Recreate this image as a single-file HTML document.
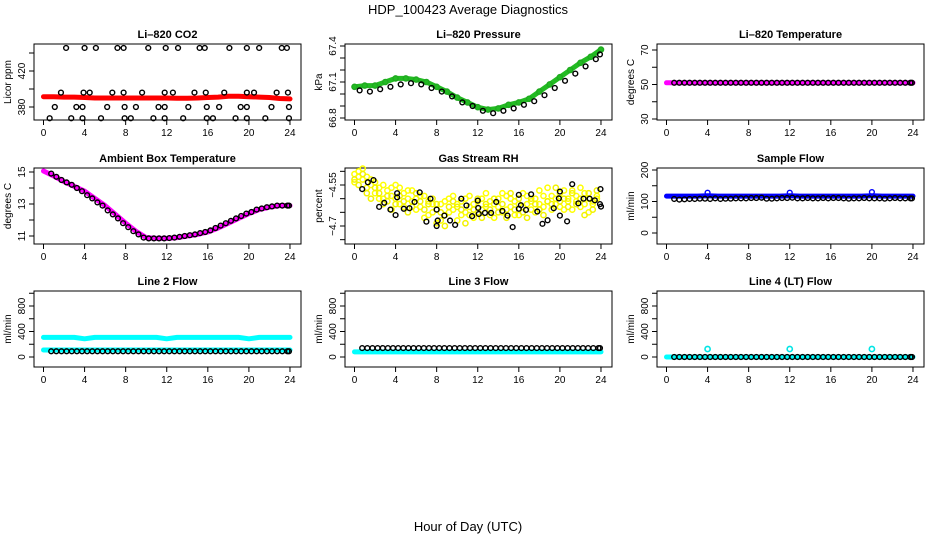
<!DOCTYPE html>
<html><head><meta charset="utf-8"><style>
html,body{margin:0;padding:0;background:#fff;}
svg{display:block;font-family:"Liberation Sans",Arial,sans-serif;}
</style></head><body>
<svg id="chart" width="936" height="540" viewBox="0 0 936 540" xmlns="http://www.w3.org/2000/svg">
<text x="468" y="14" text-anchor="middle" font-size="13">HDP_100423  Average Diagnostics</text>
<text x="468" y="531" text-anchor="middle" font-size="13">Hour of Day (UTC)</text>
</svg>
<script>
const xTicks=[0,4,8,12,16,20,24];
const hours=[0,1,2,3,4,5,6,7,8,9,10,11,12,13,14,15,16,17,18,19,20,21,22,23,24];
const halfHours=[0.75,1.25,1.75,2.25,2.75,3.25,3.75,4.25,4.75,5.25,5.75,6.25,6.75,7.25,7.75,8.25,8.75,9.25,9.75,10.25,10.75,11.25,11.75,12.25,12.75,13.25,13.75,14.25,14.75,15.25,15.75,16.25,16.75,17.25,17.75,18.25,18.75,19.25,19.75,20.25,20.75,21.25,21.75,22.25,22.75,23.25,23.75,23.9];
// CO2
const co2Red=[391.5,391.5,391,391,390.5,390,390,390,390,390,390,390,390,389.8,389.8,390,390.5,391,392,392,391.5,391,390.5,389.5,389];
const co2BlackHours=[2.2,4.0,5.1,7.2,7.8,10.2,11.9,13.1,15.2,15.7,18.1,19.8,21.0,23.2,23.7,1.7,3.9,4.5,6.7,7.8,9.6,11.8,12.6,14.7,15.8,17.6,19.8,20.5,22.7,23.8,1.1,3.2,3.8,6.2,7.9,9.0,11.2,11.8,14.1,15.9,17.1,19.2,19.8,22.2,23.9,0.6,2.7,3.8,5.6,7.9,8.5,10.7,11.8,13.6,15.9,16.5,18.7,19.8,21.6,23.9];
const co2Black=[445.6,445.6,445.6,445.6,445.6,445.6,445.6,445.6,445.6,445.6,445.6,445.6,445.6,445.6,445.6,396,396,396,396,396,396,396,396,396,396,396,396,396,396,396,380,380,380,380,380,380,380,380,380,380,380,380,380,380,380,367.5,367.5,367.5,367.5,367.5,367.5,367.5,367.5,367.5,367.5,367.5,367.5,367.5,367.5,367.5];
// Pressure
const presGreen=[67.06,67.07,67.07,67.10,67.13,67.13,67.12,67.10,67.06,67.02,66.97,66.93,66.89,66.87,66.88,66.91,66.93,66.96,67.02,67.08,67.14,67.20,67.26,67.31,67.37];
const presBlackHours=[0.5,1.5,2.5,3.5,4.5,5.5,6.5,7.5,8.5,9.5,10.5,11.5,12.5,13.5,14.5,15.5,16.5,17.5,18.5,19.5,20.5,21.5,22.5,23.5,23.9];
const presBlack=[67.03,67.02,67.04,67.06,67.08,67.09,67.08,67.05,67.02,66.98,66.93,66.90,66.86,66.84,66.86,66.88,66.91,66.94,66.99,67.05,67.11,67.17,67.23,67.29,67.33];
// Li-820 temperature
const tempMagenta=[51,51,51,51,51,51,51,51,51,51,51,51,51,51,51,51,51,51,51,51,51,51,51,51,51];
const tempBlack=[51,51,51,51,51,51,51,51,51,51,51,51,51,51,51,51,51,51,51,51,51,51,51,51,51,51,51,51,51,51,51,51,51,51,51,51,51,51,51,51,51,51,51,51,51,51,51,51];
// Ambient
const ambMagenta=[15.06,14.75,14.4,14.1,13.8,13.35,12.9,12.35,11.8,11.3,10.9,10.85,10.85,10.9,11.0,11.1,11.25,11.5,11.8,12.1,12.4,12.65,12.8,12.9,12.9];
const ambBlack=[14.9,14.7,14.5,14.35,14.2,14.0,13.8,13.55,13.35,13.1,12.9,12.6,12.35,12.1,11.8,11.55,11.3,11.1,10.9,10.85,10.85,10.85,10.85,10.87,10.9,10.95,11.0,11.05,11.1,11.18,11.25,11.35,11.5,11.65,11.8,11.95,12.1,12.25,12.4,12.5,12.65,12.72,12.8,12.85,12.9,12.9,12.9,12.9];
// RH
const rhYellowHours=[0.0,0.4,0.8,1.2,1.6,2.0,2.4,2.8,3.2,3.6,4.0,4.4,4.8,5.2,5.6,6.0,6.4,6.8,7.2,7.6,8.0,8.4,8.8,9.2,9.6,10.0,10.4,10.8,11.2,11.6,12.0,12.4,12.8,13.2,13.6,14.0,14.4,14.8,15.2,15.6,16.0,16.4,16.8,17.2,17.6,18.0,18.4,18.8,19.2,19.6,20.0,20.4,20.8,21.2,21.6,22.0,22.4,22.8,23.2,23.6];
const rhYellowA=[-4.51,-4.50,-4.53,-4.52,-4.55,-4.58,-4.56,-4.60,-4.57,-4.59,-4.55,-4.62,-4.58,-4.57,-4.61,-4.60,-4.63,-4.59,-4.66,-4.62,-4.64,-4.68,-4.61,-4.65,-4.59,-4.62,-4.66,-4.60,-4.63,-4.67,-4.61,-4.64,-4.58,-4.66,-4.62,-4.60,-4.65,-4.59,-4.63,-4.61,-4.66,-4.58,-4.62,-4.64,-4.60,-4.57,-4.63,-4.61,-4.59,-4.62,-4.58,-4.64,-4.60,-4.57,-4.61,-4.63,-4.58,-4.60,-4.62,-4.59];
const rhYellowB=[-4.54,-4.52,-4.49,-4.56,-4.53,-4.54,-4.60,-4.55,-4.61,-4.56,-4.60,-4.56,-4.63,-4.60,-4.57,-4.64,-4.59,-4.67,-4.61,-4.65,-4.69,-4.62,-4.66,-4.60,-4.64,-4.68,-4.61,-4.65,-4.59,-4.62,-4.65,-4.60,-4.63,-4.61,-4.67,-4.63,-4.58,-4.64,-4.60,-4.66,-4.62,-4.63,-4.59,-4.61,-4.65,-4.62,-4.59,-4.56,-4.64,-4.60,-4.63,-4.57,-4.61,-4.64,-4.59,-4.56,-4.62,-4.65,-4.61,-4.60];
const rhYellowC=[-4.53,-4.55,-4.51,-4.58,-4.60,-4.56,-4.58,-4.62,-4.59,-4.64,-4.62,-4.59,-4.61,-4.65,-4.63,-4.58,-4.61,-4.64,-4.62,-4.60,-4.62,-4.65,-4.70,-4.63,-4.61,-4.63,-4.64,-4.69,-4.66,-4.64,-4.60,-4.67,-4.62,-4.64,-4.60,-4.65,-4.62,-4.67,-4.58,-4.64,-4.60,-4.65,-4.67,-4.60,-4.62,-4.64,-4.66,-4.61,-4.62,-4.56,-4.61,-4.60,-4.63,-4.58,-4.62,-4.60,-4.66,-4.58,-4.64,-4.57];
const rhBlackHours=[0.75,1.3,1.85,2.4,2.9,3.5,4.0,4.15,4.15,4.8,5.35,5.85,6.35,7.0,7.4,8.0,8.0,8.1,8.75,9.3,9.8,10.4,10.9,11.45,12.0,12.05,12.1,12.7,13.3,13.8,14.4,14.9,15.4,16.0,16.0,16.2,16.7,17.2,17.8,18.3,18.8,19.4,19.9,20.0,20.0,20.7,21.2,21.8,22.3,22.9,23.4,23.9,23.95,24.0];
const rhBlack=[-4.565,-4.54,-4.532,-4.63,-4.615,-4.64,-4.66,-4.58,-4.595,-4.637,-4.635,-4.612,-4.577,-4.684,-4.60,-4.64,-4.70,-4.68,-4.662,-4.68,-4.696,-4.60,-4.625,-4.664,-4.607,-4.634,-4.656,-4.652,-4.652,-4.612,-4.645,-4.662,-4.704,-4.586,-4.637,-4.624,-4.641,-4.584,-4.647,-4.692,-4.679,-4.635,-4.599,-4.574,-4.662,-4.683,-4.547,-4.617,-4.60,-4.60,-4.606,-4.62,-4.565,-4.629];
// Sample flow
const sampleBlue=[117,117,117,117,118,117,117,117,117,117,117,117,118,117,117,117,117,117,117,117,118,117,117,117,117];
const sampleSpikeHours=[4,12,20];
const sampleSpike=[128,128,130];
const sampleBlack=[108,106,107,108,108,109,109,108,110,108,109,109,110,110,110,111,111,112,109,109,110,111,111,112,110,110,111,110,110,111,110,111,111,110,109,110,110,111,110,110,110,109,110,111,110,110,110,110];
// Line 2
const line2CyanHigh=[307,307,307,307,285,307,307,307,307,307,307,307,285,307,307,307,307,307,307,307,285,307,307,307,307];
const line2CyanLow=[110,110,110,110,110,110,110,110,110,110,110,110,110,110,110,110,110,110,110,110,110,110,110,110,110];
const line2Black=[90,90,90,90,90,90,90,90,90,90,90,90,90,90,90,90,90,90,90,90,90,90,90,90,90,90,90,90,90,90,90,90,90,90,90,90,90,90,90,90,90,90,90,90,90,90,90,90];
// Line 3
const line3Cyan=[80,80,80,80,80,80,80,80,80,80,80,80,80,80,80,80,80,80,80,80,80,80,80,80,80];
const line3Black=[140,140,140,140,140,140,140,140,140,140,140,140,140,140,140,140,140,140,140,140,140,140,140,140,140,140,140,140,140,140,140,140,140,140,140,140,140,140,140,140,140,140,140,140,140,140,140,140];
// Line 4
const line4Cyan=[0,0,0,0,0,0,0,0,0,0,0,0,0,0,0,0,0,0,0,0,0,0,0,0,0];
const line4SpikeHours=[4,12,20];
const line4Spike=[125,125,125];
const line4Black=[0,0,0,0,0,0,0,0,0,0,0,0,0,0,0,0,0,0,0,0,0,0,0,0,0,0,0,0,0,0,0,0,0,0,0,0,0,0,0,0,0,0,0,0,0,0,0,0];

const NS="http://www.w3.org/2000/svg";
const svg=document.getElementById('chart');
const COLS=[34,345,657], ROWS=[44,168,291], W=267, H=76;
function mk(tag,attrs,parent){const e=document.createElementNS(NS,tag);for(const k in attrs)e.setAttribute(k,attrs[k]);(parent||svg).appendChild(e);return e;}
function lin(v0,p0,v1,p1){return v=>p0+(v-v0)*(p1-p0)/(v1-v0);}

function panel(key,title,col,row,yRef,ticks,labels,ylab){
  const x0=COLS[col], y0=ROWS[row];
  const g=mk('g',{});
  
  
  const xs=h=>x0+9.5+h*10.27;
  const ys=lin(yRef[0],yRef[1],yRef[2],yRef[3]);
  const t=mk('text',{x:x0+W/2,y:y0-6,'text-anchor':'middle','font-size':11,'font-weight':'bold'},g);
  t.textContent=title;
  
  
  const box=mk('rect',{x:x0,y:y0,width:W,height:H,fill:'none',stroke:'#000','stroke-width':1},g);
  
  
  const xa=mk('g',{},g);
  
  
  mk('line',{x1:xs(0),x2:xs(24),y1:y0+H,y2:y0+H,stroke:'#000'},xa);
  xTicks.forEach(v=>{
    mk('line',{x1:xs(v),x2:xs(v),y1:y0+H,y2:y0+H+5,stroke:'#000'},xa);
    const l=mk('text',{x:xs(v),y:y0+H+16,'text-anchor':'middle','font-size':10},xa);
    l.textContent=v;
    
    
  });
  const ya=mk('g',{},g);
  
  
  mk('line',{x1:x0,x2:x0,y1:ys(ticks[0]),y2:ys(ticks[ticks.length-1]),stroke:'#000'},ya);
  ticks.forEach(v=>{mk('line',{x1:x0-5,x2:x0,y1:ys(v),y2:ys(v),stroke:'#000'},ya);});
  labels.forEach(v=>{
    const yy=ys(v);
    const l=mk('text',{x:x0-9,y:yy,'text-anchor':'middle','font-size':10,transform:`rotate(-90 ${x0-9} ${yy})`},ya);
    l.textContent=String(v).replace('-','\u2212');
    
    
  });
  const yl=mk('text',{x:x0-23,y:y0+H/2,'text-anchor':'middle','font-size':10,transform:`rotate(-90 ${x0-23} ${y0+H/2})`},g);
  yl.textContent=ylab;
  
  
  return {g,xs,ys};
}
function band(p,xsArr,vals,color,w,name){
  const pts=xsArr.map((h,i)=>p.xs(h).toFixed(1)+','+p.ys(vals[i]).toFixed(1)).join(' ');
  const l=mk('polyline',{points:pts,fill:'none',stroke:color,'stroke-width':w,'stroke-linejoin':'round','stroke-linecap':'round'},p.g);
  
  
}
function dots(p,xsArr,vals,color,name,r,sw){
  const g=mk('g',{},p.g);
  
  
  xsArr.forEach((h,i)=>{
    const c=mk('circle',{cx:p.xs(h),cy:p.ys(vals[i]),r:r||2.4,fill:'none',stroke:color,'stroke-width':sw||1.4},g);
    
    
  });
}

// Row 1
let p=panel('co2','Li\u2013820 CO2',0,0,[380,107,420,71],[380,400,420,440],[380,420],'Licor ppm');
band(p,hours,co2Red,'#ff0000',5,'co2-red-series');
dots(p,co2BlackHours,co2Black,'#000','co2-black-series');

p=panel('pressure','Li\u2013820 Pressure',1,0,[66.8,118,67.4,46],[66.8,66.9,67.0,67.1,67.2,67.3,67.4],[66.8,67.1,67.4],'kPa');
band(p,hours,presGreen,'#22bb22',5,'pressure-green-line');
dots(p,hours,presGreen,'#1faa1f','pressure-green-series',2.6,1.4);
dots(p,presBlackHours,presBlack,'#000','pressure-black-series');

p=panel('temperature','Li\u2013820 Temperature',2,0,[30,119,70,50],[30,40,50,60,70],[30,50,70],'degrees C');
band(p,hours,tempMagenta,'#ff00ff',5,'temperature-magenta-series');
dots(p,halfHours,tempBlack,'#000','temperature-black-series');

// Row 2
p=panel('ambient','Ambient Box Temperature',0,1,[11,236,15,172],[11,12,13,14,15],[11,13,15],'degrees C');
band(p,hours,ambMagenta,'#ff00ff',5,'ambient-magenta-series');
dots(p,halfHours,ambBlack,'#000','ambient-black-series');

p=panel('rh','Gas Stream RH',1,1,[-4.55,185,-4.70,226],[-4.50,-4.55,-4.60,-4.65,-4.70,-4.75],[-4.55,-4.70],'percent');
dots(p,rhYellowHours,rhYellowA,'#ffff00','rh-yellow-series-a',2.6,1.5);
dots(p,rhYellowHours,rhYellowB,'#ffff00','rh-yellow-series-b',2.6,1.5);
dots(p,rhYellowHours,rhYellowC,'#f2f200','rh-yellow-series-c',2.6,1.5);
dots(p,rhBlackHours,rhBlack,'#000','rh-black-series');

p=panel('sample-flow','Sample Flow',2,1,[0,233,200,170],[0,50,100,150,200],[0,100,200],'ml/min');
band(p,hours,sampleBlue,'#0000ff',5,'sample-flow-blue-series');
dots(p,sampleSpikeHours,sampleSpike,'#0000ff','sample-flow-blue-spikes');
dots(p,halfHours,sampleBlack,'#000','sample-flow-black-series');

// Row 3
const flowTicks=[0,200,400,600,800,1000], flowLabels=[0,400,800];
p=panel('line2-flow','Line 2 Flow',0,2,[0,357,800,306],flowTicks,flowLabels,'ml/min');
band(p,hours,line2CyanHigh,'#00ffff',5,'line2-cyan-high-series');
band(p,hours,line2CyanLow,'#00ffff',5,'line2-cyan-low-series');
dots(p,halfHours,line2Black,'#000','line2-black-series');

p=panel('line3-flow','Line 3 Flow',1,2,[0,357,800,306],flowTicks,flowLabels,'ml/min');
band(p,hours,line3Cyan,'#00ffff',5,'line3-cyan-series');
dots(p,halfHours,line3Black,'#000','line3-black-series');

p=panel('line4-flow','Line 4 (LT) Flow',2,2,[0,357,800,306],flowTicks,flowLabels,'ml/min');
band(p,hours,line4Cyan,'#00ffff',5,'line4-cyan-series');
dots(p,line4SpikeHours,line4Spike,'#00e5e5','line4-cyan-spikes',2.6,1.6);
dots(p,halfHours,line4Black,'#000','line4-black-series');
</script>
</body></html>
